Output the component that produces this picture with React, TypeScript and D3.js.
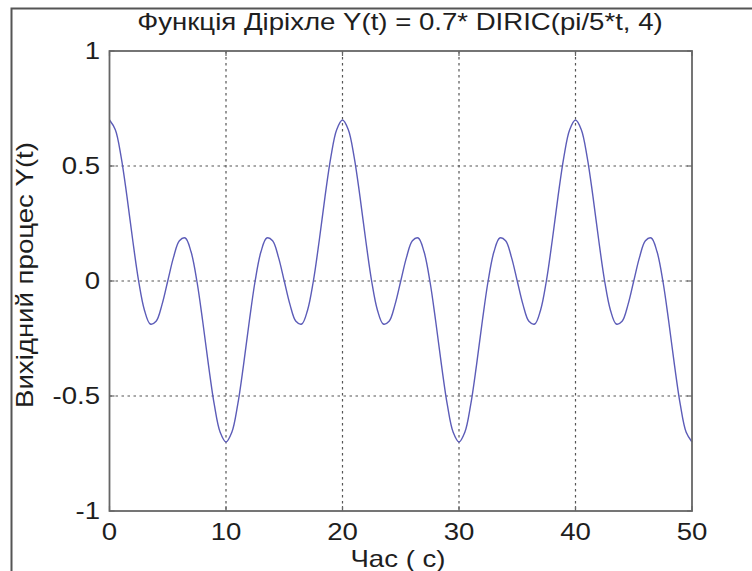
import React, { useEffect, useRef } from 'react';
import * as d3 from 'd3';

// samples every 0.5 s
const times: number[] = d3.range(0, 50.25, 0.5);
const values: number[] = [
  0.700, 0.658, 0.539, 0.367, 0.175, 0.000, -0.127, -0.187, -0.175, -0.104,
  0.000, 0.104, 0.175, 0.187, 0.127, 0.000, -0.175, -0.367, -0.539, -0.658,
  -0.700, -0.658, -0.539, -0.367, -0.175, 0.000, 0.127, 0.187, 0.175, 0.104,
  0.000, -0.104, -0.175, -0.187, -0.127, 0.000, 0.175, 0.367, 0.539, 0.658,
  0.700, 0.658, 0.539, 0.367, 0.175, 0.000, -0.127, -0.187, -0.175, -0.104,
  0.000, 0.104, 0.175, 0.187, 0.127, 0.000, -0.175, -0.367, -0.539, -0.658,
  -0.700, -0.658, -0.539, -0.367, -0.175, 0.000, 0.127, 0.187, 0.175, 0.104,
  0.000, -0.104, -0.175, -0.187, -0.127, 0.000, 0.175, 0.367, 0.539, 0.658,
  0.700, 0.658, 0.539, 0.367, 0.175, 0.000, -0.127, -0.187, -0.175, -0.104,
  0.000, 0.104, 0.175, 0.187, 0.127, 0.000, -0.175, -0.367, -0.539, -0.658,
  -0.700,
];
const xTicks: number[] = [0, 10, 20, 30, 40, 50];
const yTicks: number[] = [-1, -0.5, 0, 0.5, 1];
const yTickLabels: string[] = ['-1', '-0.5', '0', '0.5', '1'];

const title = 'Функція Діріхле Y(t) = 0.7* DIRIC(pi/5*t, 4)';
const xLabel = 'Час ( с)';
const yLabel = 'Вихідний процес Y(t)';

export default function App() {
  const ref = useRef<SVGSVGElement>(null);

  useEffect(() => {
    const W = 752, H = 571;
    const left = 109.5, right = 692, top = 51, bottom = 511;
    const svg = d3.select(ref.current).html('');
    const font = "'Liberation Sans', Arial, sans-serif";
    const axisColor = '#666';
    const fs = 23;
    const stretch = 1.2; // text in the picture is wider than plain Arial

    svg.append('rect').attr('width', W).attr('height', H).attr('fill', '#fff');

    // figure frame, cropped on the right and bottom
    svg.append('path')
      .attr('d', `M11.5,${H} L11.5,8.5 L${W},8.5`)
      .attr('fill', 'none')
      .attr('stroke', '#555')
      .attr('stroke-width', 2);

    const x = d3.scaleLinear().domain([0, 50]).range([left, right]);
    const y = d3.scaleLinear().domain([-1, 1]).range([bottom, top]);

    // grid
    const grid = svg.append('g')
      .attr('stroke', '#555')
      .attr('stroke-width', 1.2)
      .attr('stroke-dasharray', '2.5,3.5');
    grid.selectAll('line.vx')
      .data(xTicks.slice(1, -1))
      .join('line')
      .attr('x1', d => x(d)).attr('x2', d => x(d))
      .attr('y1', top).attr('y2', bottom);
    grid.selectAll('line.hy')
      .data(yTicks.slice(1, -1))
      .join('line')
      .attr('class', 'hy')
      .attr('x1', left).attr('x2', right)
      .attr('y1', d => y(d)).attr('y2', d => y(d));

    // curve
    const line = d3.line<number>()
      .curve(d3.curveCatmullRom)
      .x((d, i) => x(times[i]))
      .y(d => y(d));
    svg.append('path')
      .datum(values)
      .attr('d', line)
      .attr('fill', 'none')
      .attr('stroke', '#5c5cb8')
      .attr('stroke-width', 1.4);

    // box and inward ticks
    svg.append('rect')
      .attr('x', left).attr('y', top)
      .attr('width', right - left).attr('height', bottom - top)
      .attr('fill', 'none')
      .attr('stroke', axisColor)
      .attr('stroke-width', 1.8);

    const ticks = svg.append('g').attr('stroke', axisColor).attr('stroke-width', 1.2);
    xTicks.forEach(t => {
      ticks.append('line').attr('x1', x(t)).attr('x2', x(t)).attr('y1', bottom).attr('y2', bottom - 5);
      ticks.append('line').attr('x1', x(t)).attr('x2', x(t)).attr('y1', top).attr('y2', top + 5);
    });
    yTicks.forEach(t => {
      ticks.append('line').attr('x1', left).attr('x2', left + 5).attr('y1', y(t)).attr('y2', y(t));
      ticks.append('line').attr('x1', right).attr('x2', right - 5).attr('y1', y(t)).attr('y2', y(t));
    });

    function label(px: number, py: number, str: string, anchor: string, rot = 0, dy = '0') {
      svg.append('text')
        .attr('transform', `translate(${px},${py}) rotate(${rot}) scale(${stretch},1)`)
        .attr('dy', dy)
        .attr('text-anchor', anchor)
        .attr('font-family', font)
        .attr('font-size', fs)
        .attr('fill', '#1e1e1e')
        .text(str);
    }

    xTicks.forEach(t => label(x(t), 540, String(t), 'middle'));
    yTicks.forEach((t, i) => label(100, y(t), yTickLabels[i], 'end', 0, '0.36em'));

    label(400, 30, title, 'middle');
    label(398, 567, xLabel, 'middle');
    label(33, 275, yLabel, 'middle', -90);
  }, []);

  return (
    <svg
      ref={ref}
      width={752}
      height={571}
      style={{ position: 'absolute', left: 0, top: 0, display: 'block' }}
    />
  );
}
